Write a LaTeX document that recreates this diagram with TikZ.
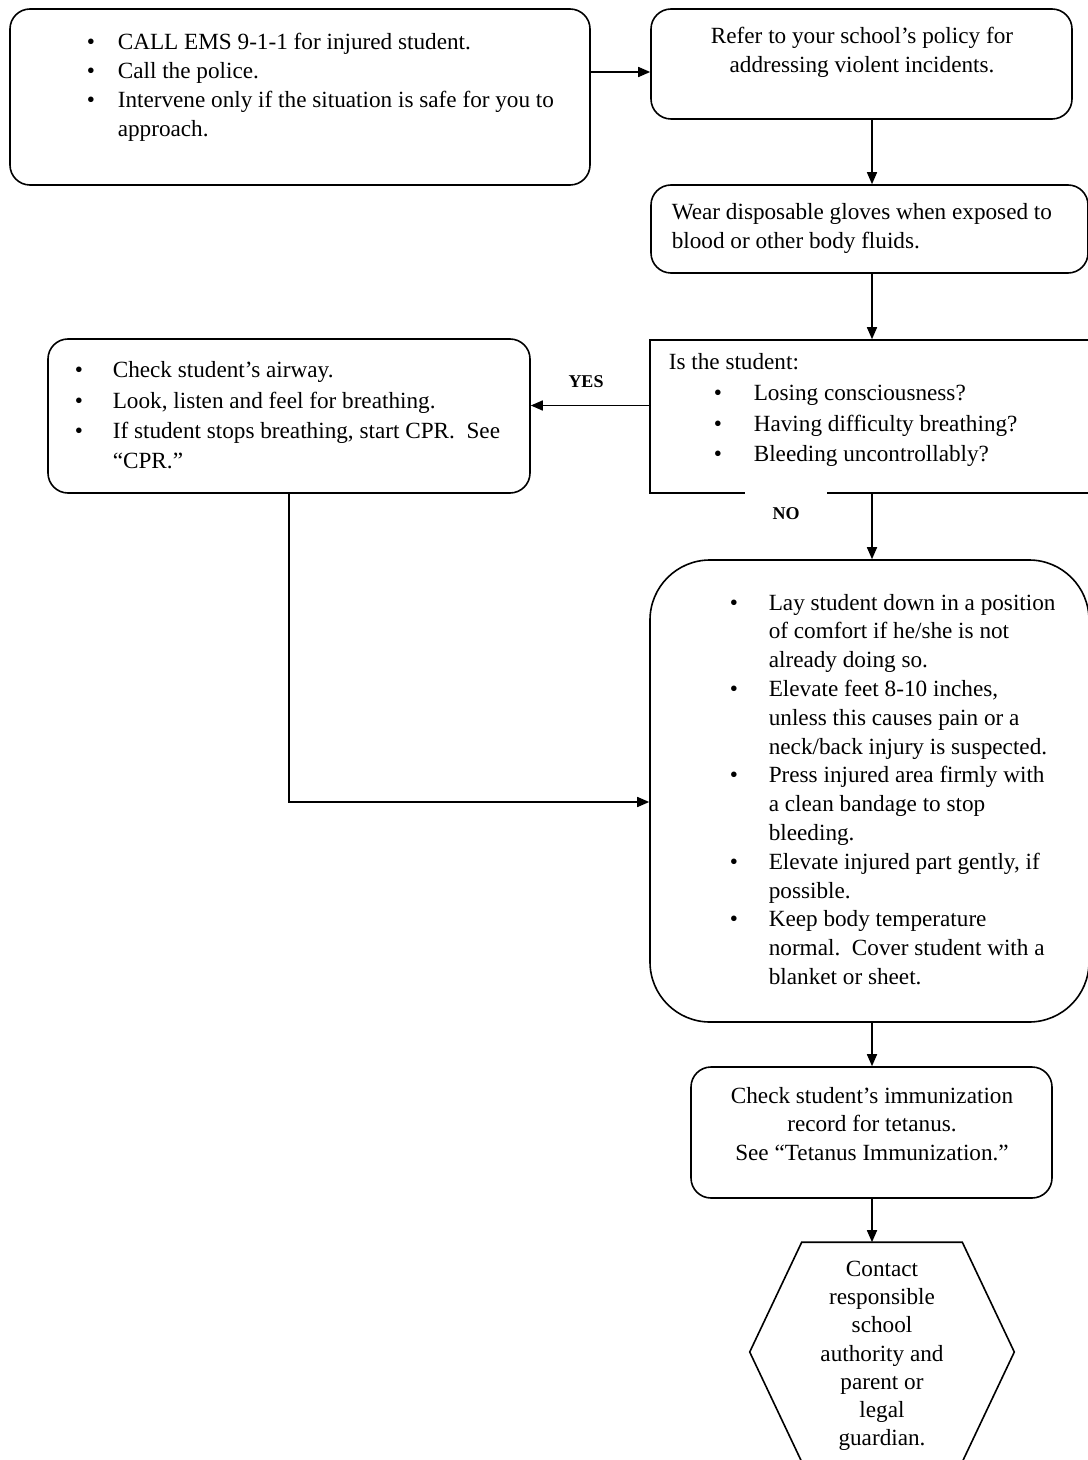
\documentclass[tikz,border=0pt]{standalone}
\usepackage{fontspec}
\setmainfont{Liberation Serif}
\usetikzlibrary{arrows.meta}

\begin{document}
\begin{tikzpicture}[
        x = 1pt, y = -1pt, % y runs down the page
        > = {Triangle[length=6pt, width=5pt]}, % arrow head style
        line width = 0.8pt, % line style
        font = \fontsize{11.6}{14.4}\selectfont
    ]
        \tikzstyle{box}=[
            draw,
            rounded corners = 10pt,
            inner sep = 0pt,
        ]
        \tikzstyle{txt}=[inner sep = 0pt, anchor = base west]
        \tikzstyle{ans}=[inner sep = 0pt, font = \fontsize{9}{10}\selectfont\bfseries]

        \useasboundingbox (0,0) rectangle (543.5,730);
        \coordinate (axis) at (436,0);

        % boxes
        \node[box, minimum width=290pt, minimum height=88pt] (call) at (150,48.5) {};
        \node[box, minimum width=210.5pt, minimum height=55pt] (refer) at (430.75,32) {};
        \node[box, minimum width=218.5pt, minimum height=44pt] (gloves) at (434.75,114.5) {};
        \node[box, sharp corners, minimum width=223pt, minimum height=76.5pt] (check) at (436.5,208.25) {};
        \node[box, minimum width=241pt, minimum height=77pt] (airway) at (144.5,208) {};
        \node[box, rounded corners=30pt, minimum width=219.5pt, minimum height=231pt] (care) at (434.75,395.5) {};
        \node[box, minimum width=180.5pt, minimum height=65.5pt] (tetanus) at (435.75,566.25) {};
        \node[inner sep=0pt, minimum width=79.5pt, minimum height=109pt] (contact) at (441,676)
        {\renewcommand{\arraystretch}{0.98}%
        \raisebox{-1.75pt}[\height][\depth]{\begin{tabular}{@{}c@{}}
        Contact\\responsible\\school\\authority and\\parent or\\legal\\guardian.
        \end{tabular}}};
        \draw (contact.north west) -- (contact.north east) -- ([xshift=26pt]contact.east)
        -- (contact.south east) -- (contact.south west) -- ([xshift=-26pt]contact.west) -- cycle;

        % texts
        \node[txt] (callt) at (43,25) {\begin{tabular}[t]{@{}p{15.5pt}@{}l@{}}
        \textbullet & CALL EMS 9-1-1 for injured student.\\
        \textbullet & Call the police.\\
        \textbullet & Intervene only if the situation is safe for you to\\
        & approach.
        \end{tabular}};

        \node[txt, anchor=base] (refert) at (431,22) {\begin{tabular}[t]{@{}c@{}}
        Refer to your school's policy for\\
        addressing violent incidents.
        \end{tabular}};

        \node[txt] (glovest) at (335.5,110) {\begin{tabular}[t]{@{}l@{}}
        Wear disposable gloves when exposed to\\
        blood or other body fluids.
        \end{tabular}};

        \node[txt] (checkt) at (334,185) {\renewcommand{\arraystretch}{1.06}%
        \begin{tabular}[t]{@{}p{22.5pt}@{}p{20pt}@{}l@{}}
        \multicolumn{3}{@{}l@{}}{Is the student:}\\
        & \textbullet & Losing consciousness?\\
        & \textbullet & Having difficulty breathing?\\
        & \textbullet & Bleeding uncontrollably?
        \end{tabular}};

        \node[txt] (airwayt) at (37,189) {\renewcommand{\arraystretch}{1.05}%
        \begin{tabular}[t]{@{}p{19pt}@{}l@{}}
        \textbullet & Check student's airway.\\
        \textbullet & Look, listen and feel for breathing.\\
        \textbullet & If student stops breathing, start CPR.\ \ See\\
        & ``CPR.''
        \end{tabular}};

        \node[txt] (caret) at (364.5,305) {\begin{tabular}[t]{@{}p{19.5pt}@{}l@{}}
        \textbullet & Lay student down in a position\\
        & of comfort if he/she is not\\
        & already doing so.\\
        \textbullet & Elevate feet 8-10 inches,\\
        & unless this causes pain or a\\
        & neck/back injury is suspected.\\
        \textbullet & Press injured area firmly with\\
        & a clean bandage to stop\\
        & bleeding.\\
        \textbullet & Elevate injured part gently, if\\
        & possible.\\
        \textbullet & Keep body temperature\\
        & normal.\ \ Cover student with a\\
        & blanket or sheet.
        \end{tabular}};

        \node[txt, anchor=base] (tetanust) at (436,551.5) {\begin{tabular}[t]{@{}c@{}}
        Check student's immunization\\
        record for tetanus.\\
        See ``Tetanus Immunization.''
        \end{tabular}};

        % answers
        \node[ans, fill=white, minimum width=41pt, minimum height=22pt] (no) at (393,257) {NO};
        \node[ans] (yes) at (293,191) {YES};

        % connectors
        \draw[->] ([yshift=12.5pt]call.east) -- ([yshift=12.5pt]call.east -| refer.west);
        \draw[->] (refer.south -| axis) -- (gloves.north -| axis);
        \draw[->] (gloves.south -| axis) -- (check.north -| axis);
        \draw[->] ([yshift=5.5pt]check.west) -- ([yshift=5.5pt]check.west -| airway.east);
        \draw[->] (check.south -| axis) -- (care.north -| axis);
        \draw[->] (airway.south) |- ([yshift=-5.5pt]care.west);
        \draw[->] (care.south -| axis) -- (tetanus.north -| axis);
        \draw[->] (tetanus.south -| axis) -- (contact.north -| axis);
    \end{tikzpicture}
\end{document}
